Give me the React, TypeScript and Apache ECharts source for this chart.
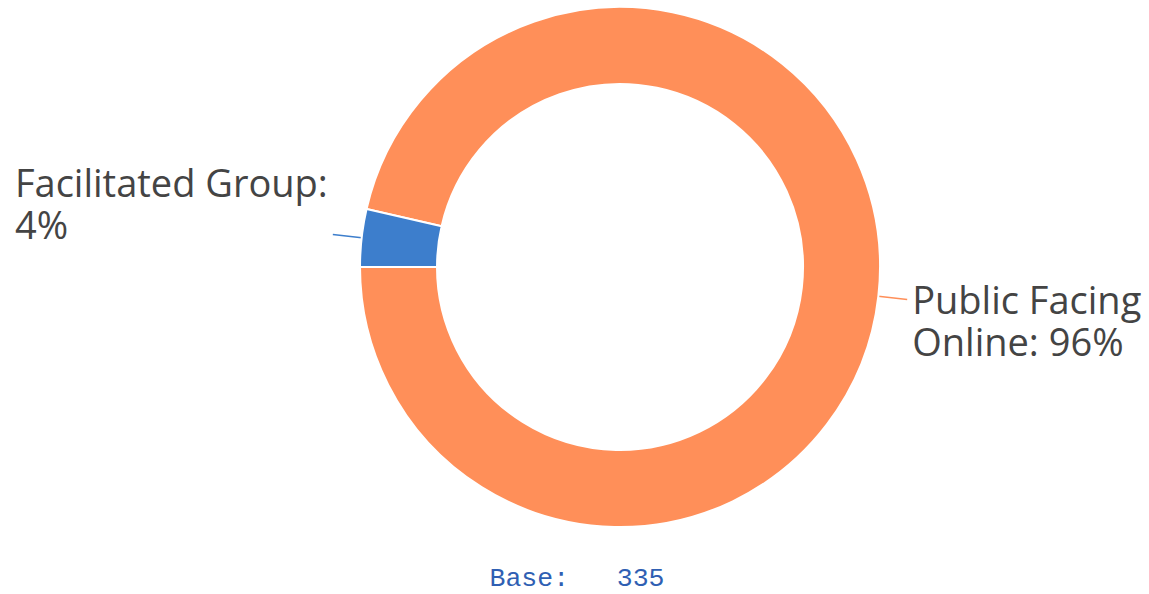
import React, { useEffect, useRef } from "react";
import * as echarts from "echarts";

const categories = ["Public Facing Online", "Facilitated Group"];
const counts = [323, 12];
const colors = ["#FF8F59", "#3D7ECC"];
const baseLabel = "Base:   335";

export default function App() {
  const ref = useRef<HTMLDivElement>(null);
  useEffect(() => {
    if (!ref.current) return;
    const chart = echarts.init(ref.current, undefined, { renderer: "svg" });
    const labelFont = {
      fontFamily: "'Open Sans', sans-serif",
      fontSize: 38,
      lineHeight: 42,
      color: "#444444",
    };
    chart.setOption({
      animation: false,
      backgroundColor: "#ffffff",
      series: [
        {
          type: "pie",
          center: [620, 267],
          radius: [183, 260],
          startAngle: 180,
          clockwise: false,
          percentPrecision: 0,
          itemStyle: { borderColor: "#ffffff", borderWidth: 2 },
          labelLine: { show: true, length: 29, length2: 0, lineStyle: { width: 1.5 } },
          label: {
            show: true,
            position: "outside",
            distanceToLabelLine: 5,
            overflow: "none",
            bleedMargin: 0,
            ...labelFont,
            rich: { a: { ...labelFont, align: "left", overflow: "none" } },
          },
          data: categories.map((name, i) => ({
            name,
            value: counts[i],
            itemStyle: { color: colors[i] },
            label:
              i === 0
                ? {
                    padding: [42, 0, 0, 0],
                    formatter: "{a|Public Facing}\n{a|Online: {d}%}",
                  }
                : {
                    padding: [0, 0, 64, 0],
                    formatter: "{a|Facilitated Group:}\n{a|{d}%}",
                  },
          })),
        },
      ],
      graphic: [
        {
          type: "text",
          x: 577,
          y: 579,
          style: {
            text: baseLabel,
            align: "center",
            verticalAlign: "middle",
            font: "26.5px 'Courier New', 'Liberation Mono', monospace",
            fill: "#2F5FB3",
          },
        },
      ],
    });
    return () => chart.dispose();
  }, []);
  return (
    <div
      ref={ref}
      style={{ position: "absolute", left: 0, top: 0, width: 1149, height: 594 }}
    />
  );
}
